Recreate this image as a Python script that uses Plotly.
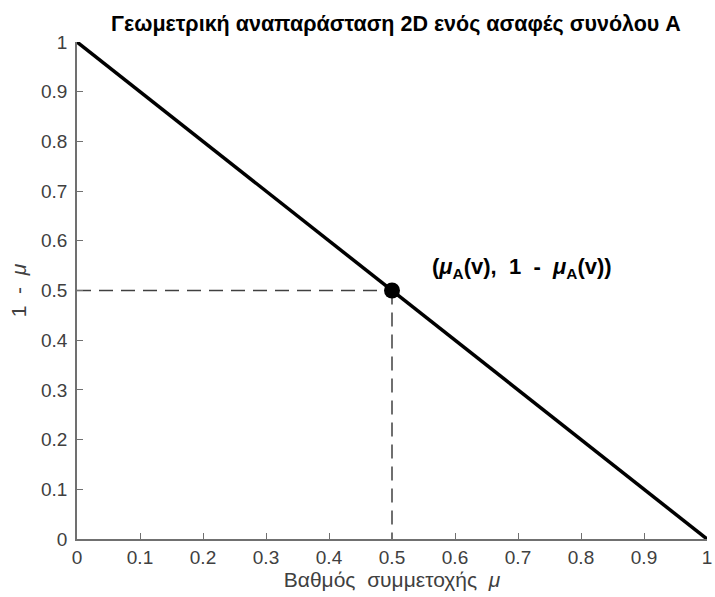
import plotly.graph_objects as go

line_x = [0, 1]
line_y = [1, 0]
point_x = [0.5]
point_y = [0.5]
tick_vals = [0, 0.1, 0.2, 0.3, 0.4, 0.5, 0.6, 0.7, 0.8, 0.9, 1]
tick_text = ["0", "0.1", "0.2", "0.3", "0.4", "0.5", "0.6", "0.7", "0.8", "0.9", "1"]

FONT = "Liberation Sans, Arial, sans-serif"
dash_color = "#404040"
fig = go.Figure()
fig.add_trace(go.Scatter(x=[0, point_x[0]], y=[point_y[0], point_y[0]], mode="lines",
                         line=dict(color=dash_color, width=1.5, dash="14px,8px"), cliponaxis=False))
fig.add_trace(go.Scatter(x=[point_x[0], point_x[0]], y=[point_y[0], 0], mode="lines",
                         line=dict(color=dash_color, width=1.5, dash="14px,8px"), cliponaxis=False))
fig.add_trace(go.Scatter(x=line_x, y=line_y, mode="lines",
                         line=dict(color="black", width=3.5), cliponaxis=False))
fig.add_trace(go.Scatter(x=point_x, y=point_y, mode="markers",
                         marker=dict(color="black", size=16), cliponaxis=False))

fig.add_annotation(x=point_x[0], y=point_y[0], xref="x", yref="y",
                   text="<b>(<i>μ</i><sub>A</sub>(v),  1  -  <i>μ</i><sub>A</sub>(v))</b>",
                   showarrow=False, xanchor="left", yanchor="middle", xshift=38, yshift=23,
                   font=dict(family=FONT, size=22, color="black"))

axis_common = dict(range=[0, 1], tickvals=tick_vals, ticktext=tick_text, ticks="inside",
                   ticklen=6, tickcolor="#707070", showline=True, linecolor="#707070",
                   linewidth=1.5, showgrid=False, zeroline=False, ticklabeloverflow="allow",
                   tickfont=dict(family=FONT, size=19, color="#404040"))

fig.update_layout(
    width=715, height=597,
    margin=dict(l=77, r=3, t=42, b=58),
    paper_bgcolor="white", plot_bgcolor="white",
    showlegend=False,
    title=dict(text="<b>Γεωμετρική αναπαράσταση 2D ενός ασαφές συνόλου A</b>",
               x=396 / 715, xanchor="center", y=1 - 23 / 597, yanchor="middle",
               font=dict(family=FONT, size=21.5, color="black")),
    xaxis=dict(**axis_common,
               title=dict(text="Βαθμός  συμμετοχής  <i>μ</i>", standoff=4,
                          font=dict(family=FONT, size=21, color="#404040"))),
    yaxis=dict(**axis_common, ticklabelstandoff=4,
               title=dict(text="1  -  <i>μ</i>", standoff=9,
                          font=dict(family=FONT, size=21, color="#404040"))),
)

fig.write_html("out.html")
